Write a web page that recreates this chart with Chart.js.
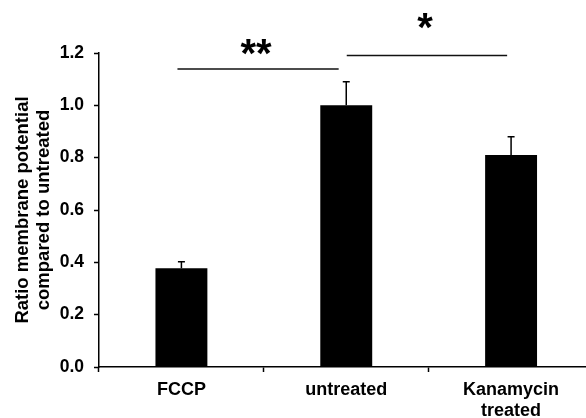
<!DOCTYPE html>
<html>
<head>
<meta charset="utf-8">
<script src="https://cdn.jsdelivr.net/npm/chart.js@4"></script>
<style>
  html, body { margin: 0; padding: 0; background: #fff; overflow: hidden; }
  #wrap { width: 600px; height: 418px; }
</style>
</head>
<body>
<div id="wrap"><canvas id="c" width="600" height="418"></canvas></div>
<script>
// ---- data ----
const categories = ['FCCP', 'untreated', ['Kanamycin', 'treated']];
const values = [0.377, 1.0, 0.81];
const errors = [0.025, 0.09, 0.07];
const yTicks = [0, 0.2, 0.4, 0.6, 0.8, 1.0, 1.2];
const yTitle = ['Ratio membrane potential', 'compared to untreated'];
// significance brackets (category index units, value units)
const sigLabels = ['**', '*'];
const sigFrom = [-0.024, 1.003];
const sigTo = [0.954, 1.976];
const sigLevel = [1.139, 1.19];
const sigStarLevel = [1.224, 1.324];

const FONT = "'Liberation Sans', Arial, sans-serif";

const annotate = {
  id: 'annotate',
  afterDatasetsDraw(chart) {
    const { ctx, scales: { x, y } } = chart;
    ctx.save();
    // error bars
    ctx.strokeStyle = '#000';
    ctx.lineWidth = 1.5;
    values.forEach((v, i) => {
      const px = x.getPixelForValue(i);
      const top = y.getPixelForValue(v + errors[i]);
      const base = y.getPixelForValue(v);
      ctx.beginPath();
      ctx.moveTo(px, base);
      ctx.lineTo(px, top);
      ctx.moveTo(px - 3.5, top);
      ctx.lineTo(px + 3.5, top);
      ctx.stroke();
    });
    // significance
    ctx.fillStyle = '#000';
    ctx.textAlign = 'center';
    ctx.textBaseline = 'middle';
    ctx.font = 'bold 40px ' + FONT;
    sigLabels.forEach((lab, i) => {
      const x1 = x.getPixelForValue(sigFrom[i]);
      const x2 = x.getPixelForValue(sigTo[i]);
      const ly = y.getPixelForValue(sigLevel[i]);
      ctx.strokeStyle = '#111';
      ctx.lineWidth = 1.5;
      ctx.beginPath();
      ctx.moveTo(x1, ly);
      ctx.lineTo(x2, ly);
      ctx.stroke();
      const sy = y.getPixelForValue(sigStarLevel[i]);
      ctx.fillText(lab, (x1 + x2) / 2 - 2, sy + 9);
    });
    ctx.restore();
  }
};

new Chart(document.getElementById('c'), {
  type: 'bar',
  data: {
    labels: categories,
    datasets: [{
      data: values,
      backgroundColor: '#000',
      borderWidth: 0,
      barPercentage: 0.315,
      categoryPercentage: 1.0
    }]
  },
  options: {
    responsive: false,
    animation: false,
    devicePixelRatio: 1,
    layout: { padding: { top: 53, right: 6.5, left: 0, bottom: 0 } },
    plugins: { legend: { display: false }, tooltip: { enabled: false } },
    scales: {
      x: {
        grid: { display: true, drawOnChartArea: false, drawTicks: true, tickLength: 5, tickColor: '#000', tickWidth: 1.5, offset: true },
        border: { color: '#000', width: 1.5 },
        ticks: { color: '#000', font: { family: FONT, size: 18, weight: 'bold', lineHeight: 1.18 }, padding: 7, maxRotation: 0, autoSkip: false },
        afterFit(s) { s.height = 51; }
      },
      y: {
        min: 0, max: 1.2,
        afterBuildTicks(s) { s.ticks = yTicks.map(v => ({ value: v })); },
        grid: { display: true, drawOnChartArea: false, drawTicks: true, tickLength: 5, tickColor: '#000', tickWidth: 1.5 },
        border: { color: '#000', width: 1.5 },
        ticks: { color: '#000', font: { family: FONT, size: 17.5, weight: 'bold' }, padding: 10, callback: v => Number(v).toFixed(1) },
        title: { display: true, text: yTitle, color: '#000', font: { family: FONT, size: 18.5, weight: 'bold', lineHeight: 1.15 }, padding: { top: 12, bottom: 0 } },
        afterFit(s) { s.width = 99; }
      }
    }
  },
  plugins: [annotate]
});
</script>
</body>
</html>
